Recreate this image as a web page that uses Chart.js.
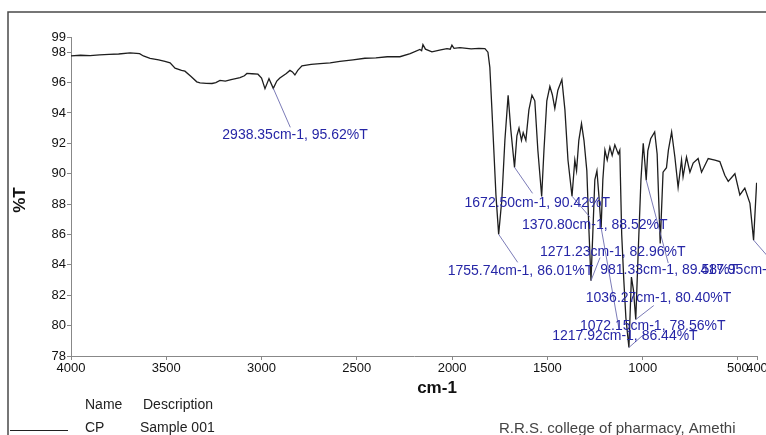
<!DOCTYPE html>
<html><head><meta charset="utf-8">
<script src="https://cdn.jsdelivr.net/npm/chart.js@4/dist/chart.umd.min.js"></script>
<style>html,body{margin:0;padding:0;background:#fff;overflow:hidden}#wrap{position:relative;width:766px;height:435px}</style>
</head><body><div id="wrap"><canvas id="c" width="766" height="435"></canvas></div>
<script>
// ---- data ----
const wavenumbers = [4000,3950,3900,3850,3800,3750,3690,3640,3620,3585,3540,3507,3480,3454,3420,3402,3370,3340,3323,3290,3260,3240,3218,3190,3160,3130,3113,3090,3077,3050,3019,3000,2982,2961,2938.35,2920,2904,2870,2851,2838,2825,2810,2788,2740,2693,2640,2589,2520,2458,2400,2340,2274,2220,2169,2160,2153,2140,2106,2060,2027,2010,2001,1990,1959,1900,1860,1828,1812,1802,1791,1781,1770,1755.74,1739,1723,1706,1692,1672.5,1660,1649,1636,1627,1613,1597,1581,1566,1550,1530,1518,1503,1487,1474,1461,1445,1424,1408,1392,1370.8,1356,1347,1335,1321,1308,1293,1282,1271.23,1261,1251,1240,1230,1217.92,1209,1198,1186,1172,1160,1146,1128,1120,1110,1099,1088,1072.15,1059,1048,1036.27,1023,1009,997,989,981.33,973,958,937,924,908,893,875,865,848,831,814,796,788,770,752,735,709,691,656,621,595,569,551,516,490,464,437,417.95,402];
const transmittance = [97.76,97.8,97.78,97.82,97.85,97.88,97.95,97.9,97.75,97.6,97.5,97.4,97.3,96.95,96.8,96.75,96.4,96.05,95.98,95.95,95.94,96.0,96.14,96.1,96.2,96.28,96.33,96.45,96.6,96.58,96.55,96.3,95.6,96.26,95.62,96.1,96.3,96.6,96.8,96.7,96.5,96.8,97.1,97.2,97.25,97.3,97.4,97.5,97.6,97.62,97.7,97.7,97.9,98.18,98.1,98.5,98.2,98.02,98.15,98.24,98.2,98.46,98.25,98.3,98.22,98.25,98.24,98.0,97.0,94.2,91.55,88.6,86.01,88.3,92.2,95.17,92.9,90.42,92.5,93.0,92.2,92.7,92.2,94.2,95.17,94.8,91.55,88.5,91.55,94.8,95.75,95.2,94.3,95.5,96.2,94.2,90.9,88.52,90.9,90.2,92.2,93.3,92.2,90.2,86.3,82.96,86.3,89.6,90.2,88.6,86.44,89.6,91.55,90.9,91.75,91.2,91.9,91.3,91.55,86.0,83.0,80.5,78.56,83.2,82.3,80.40,85.0,89.6,92.0,90.8,89.58,91.5,92.3,92.75,91.3,85.4,90.1,90.4,91.55,92.75,91.1,89.1,90.9,89.8,91.1,90.1,90.7,91.0,90.1,91.0,90.9,90.8,89.9,89.5,90.0,88.6,89.05,88.05,85.63,89.4];
const xTicks = [4000,3500,3000,2500,2000,1500,1000,500,400];
const yTicks = [78,80,82,84,86,88,90,92,94,96,98,99];
const peakWavenumbers = [2938.35,1755.74,1672.50,1370.80,1271.23,1217.92,1072.15,1036.27,981.33,417.95];
const peakTransmittance = [95.62,86.01,90.42,88.52,82.96,86.44,78.56,80.40,89.58,85.63];
const peakLabels = ["2938.35cm-1, 95.62%T","1755.74cm-1, 86.01%T","1672.50cm-1, 90.42%T","1370.80cm-1, 88.52%T","1271.23cm-1, 82.96%T","1217.92cm-1, 86.44%T","1072.15cm-1, 78.56%T","1036.27cm-1, 80.40%T","981.33cm-1, 89.58%T","417.95cm-1, 85.63%T"];
const legendHeader = ["Name","Description"];
const legendRow = ["CP","Sample 001"];
const footerText = "R.R.S. college of pharmacy, Amethi";
const xTitle = "cm-1";
const yTitle = "%T";

// ---- layout / style (pixel offsets of peak labels: textDx, textDy, leaderDx, leaderDy) ----
const labelOffsets = [[-51,47,17,39],[-51,37,19,28],[-50,36,18,26],[-50,29,18,21],[-51,-29,9,-23],[-49,108,18,102],[-49,-21,16,-14],[-50,-21,18,-14],[-46,90,22,83],[-53,30,20,23]];
const FONT = '"Liberation Sans", Arial, sans-serif';
const labelColor = '#2626a6';
const leaderColor = 'rgba(100,100,170,0.85)';

const points = wavenumbers.map((w,i)=>({x:w,y:transmittance[i]}));

const extras = {
  id:'extras',
  beforeDraw(chart){
    const ctx = chart.ctx;
    ctx.save();
    ctx.fillStyle='#fff'; ctx.fillRect(0,0,chart.width,chart.height);
    ctx.strokeStyle='#4a4a4a'; ctx.lineWidth=1.5;
    ctx.beginPath(); ctx.moveTo(8,435); ctx.lineTo(8,12); ctx.lineTo(766,12); ctx.stroke();
    ctx.restore();
  },
  afterDraw(chart){
    const {ctx, scales:{x,y}} = chart;
    ctx.save();
    ctx.font = '14px '+FONT;
    ctx.textBaseline='middle'; ctx.textAlign='left';
    peakWavenumbers.forEach((w,i)=>{
      const px=x.getPixelForValue(w), py=y.getPixelForValue(peakTransmittance[i]);
      const o=labelOffsets[i];
      ctx.strokeStyle=leaderColor; ctx.lineWidth=1;
      ctx.beginPath(); ctx.moveTo(px,py); ctx.lineTo(px+o[2],py+o[3]); ctx.stroke();
    });
    peakWavenumbers.forEach((w,i)=>{
      const px=x.getPixelForValue(w), py=y.getPixelForValue(peakTransmittance[i]);
      const o=labelOffsets[i];
      ctx.fillStyle=labelColor;
      ctx.fillText(peakLabels[i], px+o[0], py+o[1]);
    });
    ctx.fillStyle='#111';
    ctx.font='bold 17px '+FONT;
    ctx.textAlign='center';
    ctx.fillText(xTitle, 437, 388);
    ctx.save();
    ctx.translate(20,200); ctx.rotate(-Math.PI/2);
    ctx.fillText(yTitle, 0, 0);
    ctx.restore();
    ctx.font='14px '+FONT; ctx.textAlign='left'; ctx.fillStyle='#222';
    ctx.fillText(legendHeader[0], 85, 405);
    ctx.fillText(legendHeader[1], 143, 405);
    ctx.fillText(legendRow[0], 85, 428);
    ctx.fillText(legendRow[1], 140, 428);
    ctx.strokeStyle='#222'; ctx.lineWidth=1;
    ctx.beginPath(); ctx.moveTo(10,430.5); ctx.lineTo(68,430.5); ctx.stroke();
    ctx.font='15px '+FONT; ctx.fillStyle='#444';
    ctx.fillText(footerText, 499, 429);
    ctx.restore();
  }
};

new Chart(document.getElementById('c'), {
  type:'line',
  data:{datasets:[{data:points, borderColor:'#1e1e1e', borderWidth:1.3, pointRadius:0, tension:0, fill:false}]},
  options:{
    responsive:false, animation:false,
    layout:{padding:{top:37,right:9,left:0,bottom:0}},
    plugins:{legend:{display:false}, tooltip:{enabled:false}},
    scales:{
      x:{type:'linear', reverse:true, min:400, max:4000,
        afterBuildTicks:(s)=>{s.ticks = xTicks.map(v=>({value:v}));},
        afterFit:(s)=>{s.height=79; s.paddingLeft=0; s.paddingRight=0;},
        ticks:{autoSkip:false, maxRotation:0, color:'#111', font:{size:13,family:FONT}, padding:1, callback:(v)=>String(v)},
        grid:{drawOnChartArea:false, drawTicks:true, tickLength:4, color:'#888'},
        border:{display:true, color:'#888'}},
      y:{type:'linear', min:78, max:99,
        afterBuildTicks:(s)=>{s.ticks = yTicks.map(v=>({value:v}));},
        afterFit:(s)=>{s.width=71; s.paddingTop=0; s.paddingBottom=0;},
        ticks:{autoSkip:false, color:'#111', font:{size:13,family:FONT}, padding:1, callback:(v)=>String(v)},
        grid:{drawOnChartArea:false, drawTicks:true, tickLength:4, color:'#888'},
        border:{display:true, color:'#888'}}
    }
  },
  plugins:[extras]
});
</script></body></html>
